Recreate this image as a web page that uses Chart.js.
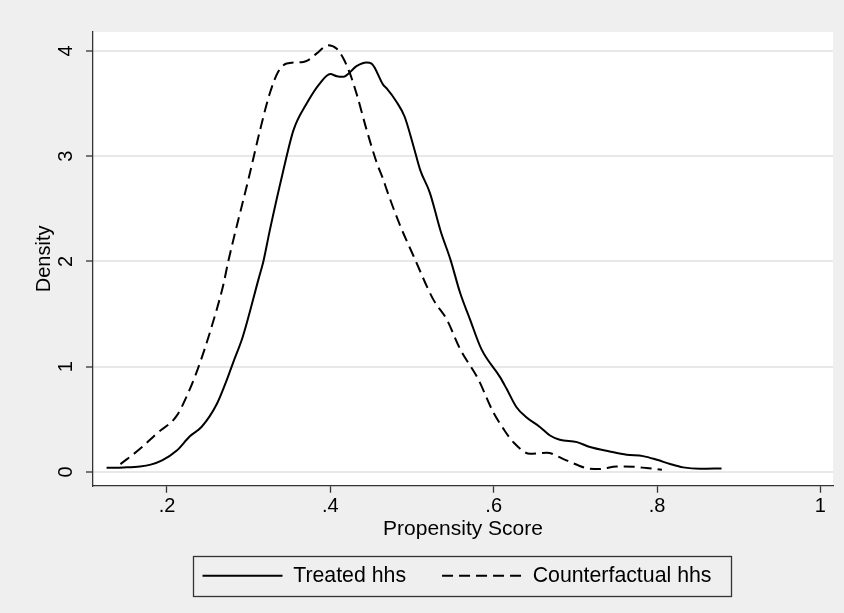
<!DOCTYPE html>
<html>
<head>
<meta charset="utf-8">
<script src="https://cdn.jsdelivr.net/npm/chart.js"></script>
<style>
  html, body { margin: 0; padding: 0; background: #efefef; }
  #wrap { width: 844px; height: 613px; }
</style>
</head>
<body>
<div id="wrap"><canvas id="kd"></canvas></div>
<script>
// kernel densities of the propensity score
const treatedX = [0.126, 0.147, 0.167, 0.180, 0.194, 0.212, 0.228, 0.2425, 0.261, 0.273, 0.281, 0.293,
  0.312, 0.318, 0.326, 0.342, 0.355, 0.371, 0.387, 0.400, 0.408, 0.416, 0.420, 0.432, 0.4445, 0.4505,
  0.465, 0.469, 0.481, 0.491, 0.502, 0.510, 0.522, 0.535, 0.547, 0.559, 0.571, 0.585, 0.608, 0.616,
  0.628, 0.640, 0.657, 0.669, 0.681, 0.702, 0.718, 0.742, 0.763, 0.783, 0.800, 0.816, 0.832, 0.853, 0.879];
const treatedY = [0.04, 0.044, 0.053, 0.07, 0.11, 0.204, 0.34, 0.43, 0.646, 0.87, 1.04, 1.29,
  1.83, 2.0, 2.30, 2.85, 3.25, 3.50, 3.69, 3.78, 3.76, 3.755, 3.77, 3.855, 3.89, 3.88,
  3.675, 3.644, 3.517, 3.375, 3.09, 2.87, 2.65, 2.29, 2.02, 1.70, 1.45, 1.167, 0.899, 0.788,
  0.615, 0.52, 0.426, 0.347, 0.306, 0.284, 0.237, 0.195, 0.164, 0.151, 0.116, 0.076, 0.044, 0.031, 0.034];

const counterX = [0.143, 0.167, 0.187, 0.212, 0.228, 0.2405, 0.2525, 0.269, 0.275, 0.300, 0.314, 0.326,
  0.336, 0.3465, 0.367, 0.373, 0.383, 0.3975, 0.4075, 0.416, 0.424, 0.432, 0.4445, 0.457, 0.465, 0.469,
  0.485, 0.502, 0.526, 0.5425, 0.559, 0.581, 0.5995, 0.612, 0.624, 0.6445, 0.665, 0.689, 0.718, 0.730,
  0.7505, 0.771, 0.787, 0.806];
const counterY = [0.075, 0.22, 0.363, 0.536, 0.788, 1.04, 1.325, 1.78, 2.0, 2.79, 3.25, 3.60,
  3.80, 3.88, 3.896, 3.912, 3.975, 4.054, 4.023, 3.928, 3.786, 3.597, 3.249, 2.934, 2.776, 2.682,
  2.35, 2.05, 1.64, 1.45, 1.167, 0.883, 0.568, 0.41, 0.284, 0.173, 0.183, 0.11, 0.031, 0.028,
  0.053, 0.05, 0.038, 0.022];

const seriesNames = ['Treated hhs', 'Counterfactual hhs'];
const xTicks = [0.2, 0.4, 0.6, 0.8, 1];
const xTickLabels = ['.2', '.4', '.6', '.8', '1'];
const yTicks = [0, 1, 2, 3, 4];
const yTickLabels = ['0', '1', '2', '3', '4'];

const FONT = '"Liberation Sans", Arial, sans-serif';
const INK = '#000';
const AXIS = '#333';

const toPoints = (xs, ys) => xs.map((x, i) => ({ x: x, y: ys[i] }));

// grey page, white plot region
const plotBg = {
  id: 'plotBg',
  beforeDraw(chart) {
    const { ctx, chartArea: a } = chart;
    ctx.save();
    ctx.fillStyle = '#efefef';
    ctx.fillRect(0, 0, chart.width, chart.height);
    ctx.fillStyle = '#ffffff';
    ctx.fillRect(a.left, a.top, a.right - a.left, a.bottom - a.top);
    ctx.restore();
  }
};

// small nudge so the key sits where Stata put it
const legendShift = {
  id: 'legendShift',
  afterLayout(chart) {
    const lg = chart.legend;
    lg.left -= 6;
    lg.right -= 6;
  }
};

// Stata style framed legend
const legendFrame = {
  id: 'legendFrame',
  afterDraw(chart) {
    const boxes = chart.legend.legendHitBoxes;
    if (!boxes || !boxes.length) return;
    const first = boxes[0], last = boxes[boxes.length - 1];
    const cy = first.top + first.height / 2;
    const x0 = first.left - 10, x1 = last.left + last.width + 19;
    const ctx = chart.ctx;
    ctx.save();
    ctx.strokeStyle = AXIS;
    ctx.lineWidth = 1.3;
    ctx.strokeRect(Math.round(x0) + 0.5, Math.round(cy - 20) + 0.5, Math.round(x1 - x0), 40);
    ctx.restore();
  }
};

// with usePointStyle the default labels drop the dataset dash, so put it back
const legendLabels = chart =>
  Chart.defaults.plugins.legend.labels.generateLabels(chart).map(item => {
    const ds = chart.data.datasets[item.datasetIndex];
    item.lineDash = ds.borderDash || [];
    item.strokeStyle = ds.borderColor;
    item.lineWidth = ds.borderWidth;
    return item;
  });

new Chart(document.getElementById('kd'), {
  type: 'line',
  data: {
    datasets: [
      {
        label: seriesNames[0],
        data: toPoints(treatedX, treatedY),
        borderColor: INK,
        borderWidth: 2,
        pointRadius: 0,
        cubicInterpolationMode: 'monotone',
        fill: false
      },
      {
        label: seriesNames[1],
        data: toPoints(counterX, counterY),
        borderColor: INK,
        borderWidth: 2,
        borderDash: [11, 6],
        pointRadius: 0,
        cubicInterpolationMode: 'monotone',
        fill: false
      }
    ]
  },
  options: {
    responsive: true,
    maintainAspectRatio: false,
    animation: false,
    layout: { padding: { left: 0, right: 11, top: 32, bottom: 16.5 } },
    scales: {
      x: {
        type: 'linear',
        min: 0.1094,
        max: 1.0155,
        afterBuildTicks: s => { s.ticks = xTicks.map(v => ({ value: v })); },
        afterFit: s => { s.height = 43.5; },
        ticks: {
          color: INK,
          font: { family: FONT, size: 20 },
          padding: 2,
          maxRotation: 0,
          callback: (v, i) => xTickLabels[i]
        },
        grid: { drawOnChartArea: false, tickLength: 7, tickColor: AXIS, tickWidth: 1.3 },
        border: { display: true, color: AXIS, width: 1.3 },
        title: {
          display: true,
          text: 'Propensity Score',
          color: INK,
          font: { family: FONT, size: 21 },
          padding: { top: 0, bottom: -12.6 }
        }
      },
      y: {
        min: -0.13,
        max: 4.18,
        afterBuildTicks: s => { s.ticks = yTicks.map(v => ({ value: v })); },
        afterFit: s => { s.width = 93; },
        ticks: {
          color: INK,
          font: { family: FONT, size: 20 },
          padding: 14,
          minRotation: 90,
          maxRotation: 90,
          crossAlign: 'center',
          callback: (v, i) => yTickLabels[i]
        },
        grid: { color: '#e8e8e8', lineWidth: 2, tickLength: 7, tickColor: AXIS, tickWidth: 1.3 },
        border: { display: true, color: AXIS, width: 1.3 },
        title: {
          display: true,
          text: 'Density',
          color: INK,
          font: { family: FONT, size: 20 },
          padding: { top: 32, bottom: 0 }
        }
      }
    },
    plugins: {
      legend: {
        position: 'bottom',
        fullSize: false,
        labels: {
          color: INK,
          font: { family: FONT, size: 21.3 },
          usePointStyle: true,
          pointStyle: 'line',
          pointStyleWidth: 80,
          padding: 36,
          generateLabels: legendLabels
        }
      },
      tooltip: { enabled: false }
    }
  },
  plugins: [plotBg, legendShift, legendFrame]
});
</script>
</body>
</html>
